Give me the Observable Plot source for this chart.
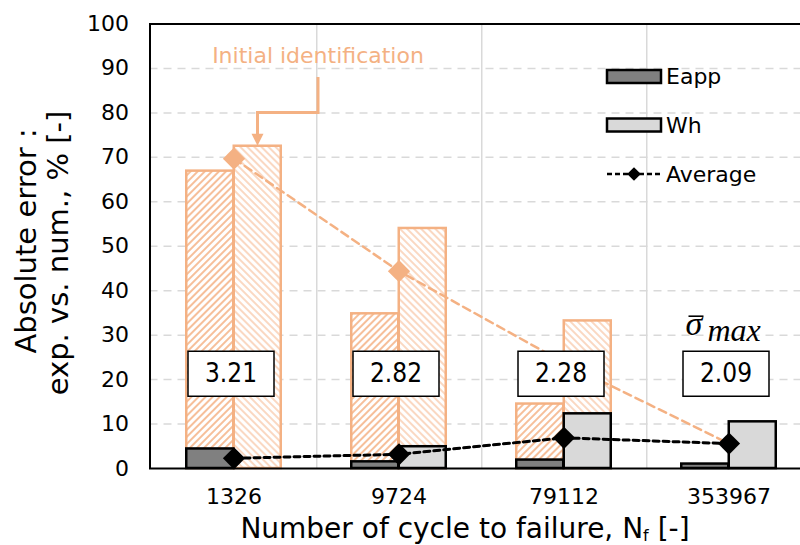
<!DOCTYPE html>
<html><head><meta charset="utf-8">
<script src="https://cdn.jsdelivr.net/npm/d3@7"></script>
<script src="https://cdn.jsdelivr.net/npm/@observablehq/plot@0.6"></script>
<style>
body{margin:0;background:#fff}
svg{font-family:"DejaVu Sans",sans-serif}
</style>
</head><body><div id="chart"></div>
<script>
// ---- data ----
const categories = ["1326", "9724", "79112", "353967"];
const eapp = [4.4, 1.5, 1.9, 1.0];
const wh = [0, 4.9, 12.3, 10.5];
const average = [2.3, 3.2, 6.9, 5.6];
const initEapp = [66.9, 34.8, 14.5, null];
const initWh = [72.5, 54.0, 33.2, null];
const initAverage = [69.7, 44.4, 23.8, 5.6];
const sigmaMax = ["3.21", "2.82", "2.28", "2.09"];
const yTicks = [0, 10, 20, 30, 40, 50, 60, 70, 80, 90, 100];
const gridTicks = [10, 20, 30, 40, 50, 60, 70, 80, 90];
const legendLabels = ["Eapp", "Wh", "Average"];
const annotationText = "Initial identification";
const annotationTarget = {category: "1326", value: 72.5};
const sigmaLabel = {category: "353967", value: 31};
const xTitle = ["Number of cycle to failure, N", "f", " [-]"];
const yTitle = ["Absolute error :", "exp. vs. num., % [-]"];

// tables
const rows = categories.map((c, i) => ({
  cat: c, eapp: eapp[i], wh: wh[i], avg: average[i],
  initEapp: initEapp[i], initWh: initWh[i], initAvg: initAverage[i], sigma: sigmaMax[i]
}));
const initRows = rows.filter(d => d.initEapp != null);

const ORANGE = "#f4b183";
const half = 82.75, barW = 47.5;
const boxSymbol = {draw(ctx) { ctx.rect(-43, -22.5, 86, 45); }};

const plot = Plot.plot({
  width: 800, height: 545,
  marginLeft: 149.5, marginRight: -11.5, marginTop: 23.5, marginBottom: 77,
  style: {fontFamily: "DejaVu Sans", fontSize: "22px", color: "black", background: "white", overflow: "visible"},
  x: {type: "band", domain: categories, padding: 0, label: null, tickSize: 0, tickPadding: 20},
  y: {domain: [0, 100], ticks: yTicks, label: null, tickSize: 0, tickPadding: 21},
  marks: [
    Plot.gridY(gridTicks, {stroke: "#d9d9d9", strokeOpacity: 1, strokeWidth: 1.5, strokeDasharray: "8,6"}),
    Plot.ruleX(categories.slice(0, 3), {dx: half, stroke: "#d9d9d9", strokeWidth: 1.5}),
    // initial identification (hatched)
    Plot.barY(initRows, {x: "cat", y: "initEapp", insetLeft: half - barW, insetRight: half,
      fill: "url(#hatchL)", stroke: ORANGE, strokeWidth: 2.5}),
    Plot.barY(initRows, {x: "cat", y: "initWh", insetLeft: half, insetRight: half - barW,
      fill: "url(#hatchR)", stroke: ORANGE, strokeWidth: 2.5}),
    // current results
    Plot.barY(rows, {x: "cat", y: "eapp", insetLeft: half - barW, insetRight: half,
      fill: "#808080", stroke: "black", strokeWidth: 2.5}),
    Plot.barY(rows.filter(d => d.wh > 0), {x: "cat", y: "wh", insetLeft: half, insetRight: half - barW,
      fill: "#d9d9d9", stroke: "black", strokeWidth: 2.5}),
    // initial average
    Plot.line(rows, {x: "cat", y: "initAvg", stroke: ORANGE, strokeWidth: 2.5, strokeDasharray: "8,5"}),
    Plot.dot(rows.slice(0, 3), {x: "cat", y: "initAvg", symbol: "diamond2", r: 10, fill: ORANGE, stroke: "none"}),
    // sigma boxes
    Plot.dot(rows, {x: "cat", y: () => 21.3, dx: -3, symbol: boxSymbol, r: 10, fill: "white", stroke: "black", strokeWidth: 1.5}),
    Plot.text(rows, {x: "cat", y: () => 21.3, dx: -3, text: "sigma", fontSize: 26, fill: "black",
      fontFamily: "DejaVu Sans Condensed, DejaVu Sans", fontStretch: "condensed"}),
    // average
    Plot.line(rows, {x: "cat", y: "avg", stroke: "black", strokeWidth: 3, strokeDasharray: "6,4"}),
    Plot.dot(rows, {x: "cat", y: "avg", symbol: "diamond2", r: 10, fill: "black", stroke: "none"}),
    Plot.frame({stroke: "black", strokeWidth: 2})
  ]
});

const svg = d3.select(plot);
const X = plot.scale("x"), Y = plot.scale("y");
const xc = c => X.apply(c) + X.bandwidth / 2;

// hatch patterns
const defs = svg.insert("defs", ":first-child");
const pat = (id, angle, color) => {
  const p = defs.append("pattern").attr("id", id).attr("patternUnits", "userSpaceOnUse")
    .attr("width", 5).attr("height", 5).attr("patternTransform", `rotate(${angle})`);
  p.append("rect").attr("width", 5).attr("height", 5).attr("fill", "white");
  p.append("line").attr("x1", 1).attr("x2", 1).attr("y1", 0).attr("y2", 5)
    .attr("stroke", color).attr("stroke-width", 2);
};
pat("hatchL", 45, "#f6bf9a");
pat("hatchR", -45, "#fad8c2");

const g = svg.append("g").attr("text-anchor", "start");
// annotation
const ax = xc(annotationTarget.category) + 84.5;
const tipX = xc(annotationTarget.category) + 24;
const tipY = Y.apply(annotationTarget.value);
g.append("text").attr("x", ax).attr("y", 62.5).attr("text-anchor", "middle")
  .attr("fill", ORANGE).attr("font-size", 22).text(annotationText);
g.append("path").attr("d", `M${ax},77 V${Y.apply(80)} H${tipX} V${tipY - 10}`)
  .attr("fill", "none").attr("stroke", ORANGE).attr("stroke-width", 3);
g.append("path").attr("d", `M${tipX - 6},${tipY - 12} L${tipX + 6},${tipY - 12} L${tipX},${tipY} Z`)
  .attr("fill", ORANGE);

// sigma label
const sx = xc(sigmaLabel.category) - 43, sy = Y.apply(sigmaLabel.value) + 5;
const sg = g.append("g").attr("font-family", "Liberation Serif, DejaVu Serif").attr("font-style", "italic");
sg.append("text").attr("x", sx).attr("y", sy).attr("font-size", 34).text("\u03C3");
sg.append("line").attr("x1", sx + 3).attr("x2", sx + 18).attr("y1", sy - 19).attr("y2", sy - 19)
  .attr("stroke", "black").attr("stroke-width", 1.6);
sg.append("text").attr("x", sx + 22).attr("y", sy + 6).attr("font-size", 32).text("max");

// legend
const lg = g.append("g").attr("font-size", 22);
const lx = 607, lw = 54, tx = 666;
const ly = [76.5, 125, 174];
lg.append("rect").attr("x", lx).attr("y", ly[0] - 6.5).attr("width", lw).attr("height", 13)
  .attr("fill", "#808080").attr("stroke", "black").attr("stroke-width", 2.5);
lg.append("rect").attr("x", lx).attr("y", ly[1] - 6.5).attr("width", lw).attr("height", 13)
  .attr("fill", "#d9d9d9").attr("stroke", "black").attr("stroke-width", 2.5);
lg.append("line").attr("x1", lx).attr("x2", lx + lw).attr("y1", ly[2]).attr("y2", ly[2])
  .attr("stroke", "black").attr("stroke-width", 2.5).attr("stroke-dasharray", "5,3");
lg.append("path").attr("d", d3.symbol(d3.symbolDiamond2, 120)()).attr("transform", `translate(${lx + lw / 2},${ly[2]})`);
legendLabels.forEach((t, i) => lg.append("text").attr("x", tx).attr("y", ly[i]).attr("dy", "0.35em").text(t));

// axis titles
const xt = g.append("text").attr("x", 465).attr("y", 538).attr("text-anchor", "middle").attr("font-size", 28);
xt.append("tspan").text(xTitle[0]);
xt.append("tspan").attr("dy", 3).attr("font-size", 16).text(xTitle[1]);
xt.append("tspan").attr("dy", -3).text(xTitle[2]);
yTitle.forEach((t, i) => g.append("text").attr("transform", `translate(${[36, 68][i]},${[241, 253][i]}) rotate(-90)`)
  .attr("text-anchor", "middle").attr("font-size", 29).text(t));

document.getElementById("chart").append(plot);
</script>
</body></html>
